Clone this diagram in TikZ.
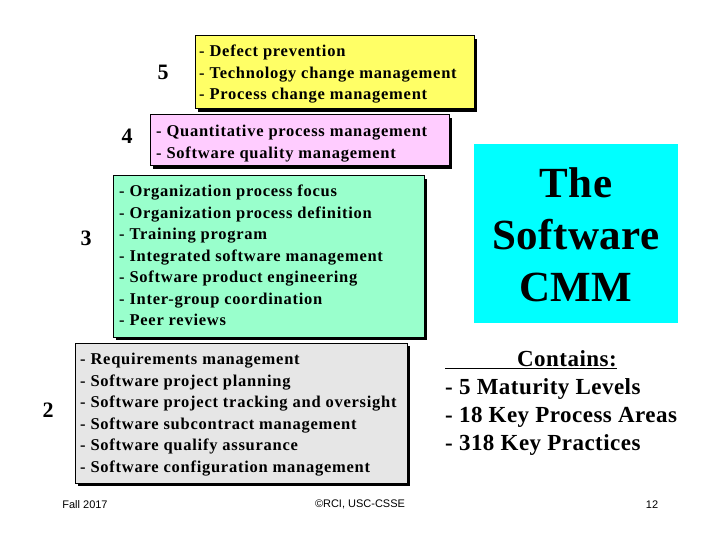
\documentclass[tikz,border=0pt]{standalone}
\usepackage{fontspec}
\setmainfont{Liberation Serif}
\newfontfamily\footfont{Liberation Sans}
\begin{document}
\begin{tikzpicture}[x=1pt,y=-1pt,
  lvl/.style={draw=black,line width=1pt},
  shad/.style={fill=black},
  items/.style={anchor=north west,align=left,font=\fontsize{16.5}{21.5}\selectfont\bfseries\addfontfeature{LetterSpace=4.5},inner sep=0pt},
  num/.style={font=\fontsize{22}{24}\selectfont\bfseries},
  foot/.style={font=\fontsize{11}{12}\selectfont\footfont}]
\useasboundingbox (0,0) rectangle (720,540);
\definecolor{y5}{HTML}{FFFF66}
\definecolor{p4}{HTML}{FFCCFF}
\definecolor{g3}{HTML}{99FFCC}
\definecolor{g2}{HTML}{E6E6E6}
\definecolor{cy}{HTML}{00FFFF}
% level 5
\fill[shad] (198,39) rectangle (477,112);
\filldraw[lvl,fill=y5] (195,36) rectangle (474,109);
\node[items] (t5) at (199,45) {- Defect prevention\\- Technology change management\\- Process change management};
\node[num] (n5) at (163,72) {5};
% level 4
\fill[shad] (153,118) rectangle (452,169);
\filldraw[lvl,fill=p4] (150,115) rectangle (449,166);
\node[items] (t4) at (156,125) {- Quantitative process management\\- Software quality management};
\node[num] (n4) at (127,136) {4};
% level 3
\fill[shad] (116,179) rectangle (427,340);
\filldraw[lvl,fill=g3] (113,176) rectangle (424,337);
\node[items] (t3) at (119,185) {- Organization process focus\\- Organization process definition\\- Training program\\- Integrated software management\\- Software product engineering\\- Inter-group coordination\\- Peer reviews};
\node[num] (n3) at (86,238) {3};
% level 2
\fill[shad] (78,346) rectangle (410,486);
\filldraw[lvl,fill=g2] (75,343) rectangle (407,483);
\node[items] (t2) at (80,353) {- Requirements management\\- Software project planning\\- Software project tracking and oversight\\- Software subcontract management\\- Software qualify assurance\\- Software configuration management};
\node[num] (n2) at (48,410) {2};
% CMM
\fill[cy] (474,144) rectangle (678,323);
\node[align=center,font=\fontsize{43}{52}\selectfont\bfseries\addfontfeature{LetterSpace=1}] (cmm) at (576,235) {The\\Software\\CMM};
% contains
\node[anchor=north west,align=left,inner sep=0pt,font=\fontsize{23}{28}\selectfont\bfseries\addfontfeature{LetterSpace=2}] (cont) at (445,350)
  {\underline{\hspace*{72pt}Contains:}\\- 5 Maturity Levels\\- 18 Key Process Areas\\- 318 Key Practices};
% footer
\node[foot] (f1) at (85,505) {Fall 2017};
\node[foot] (f2) at (360,504) {©RCI, USC-CSSE};
\node[foot] (f3) at (652,505) {12};
\end{tikzpicture}
\end{document}
